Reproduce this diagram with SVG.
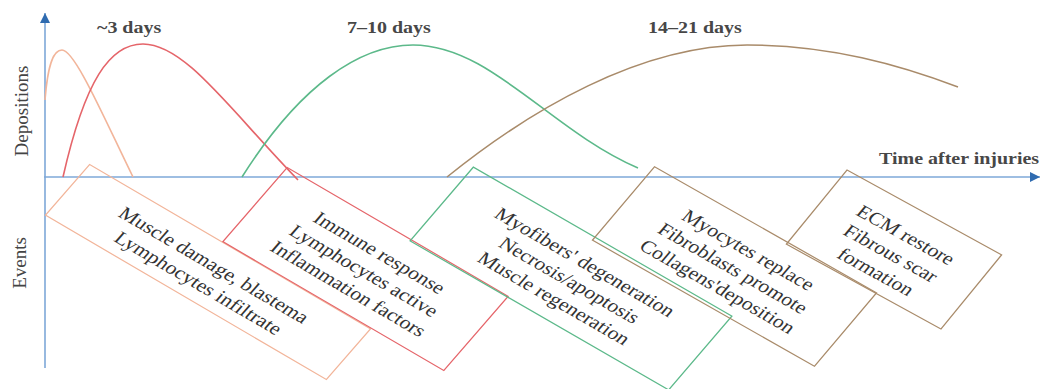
<svg xmlns="http://www.w3.org/2000/svg" width="1040" height="389" viewBox="0 0 1040 389">
<defs>
<marker id="arr" viewBox="0 0 10 10" refX="10" refY="5" markerWidth="10" markerHeight="10" markerUnits="userSpaceOnUse" orient="auto"><path d="M0,0 L10,5 L0,10 z" fill="#2f6bb0"/></marker>
</defs>
<style>
.axis{stroke:#7ea8d8;stroke-width:1.6;fill:none}
.lbl{font-family:"Liberation Serif",serif;fill:#474747;font-weight:bold;font-size:20px}
.ax{font-family:"Liberation Serif",serif;fill:#444;font-size:19px;text-anchor:middle}
.curve{fill:none;stroke-width:1.6}
.box{fill:none;stroke-width:1.4}
.bt{font-family:"Liberation Serif",serif;fill:#333;font-size:22px;text-anchor:middle}
.s{stroke:#f2b59a}.r{stroke:#e5656a}.g{stroke:#5cb98a}.b{stroke:#a98b6a}
</style>
<g id="axes">
<line class="axis" x1="45" y1="368" x2="45" y2="13" marker-end="url(#arr)"/>
<line class="axis" x1="44" y1="177" x2="1040" y2="177" marker-end="url(#arr)"/>
<text class="ax" transform="translate(28,111) rotate(-90)">Depositions</text>
<text class="ax" transform="translate(26,263) rotate(-90)">Events</text>
<text class="lbl" transform="translate(879,164) scale(1,0.82)">Time after injuries</text>
<text class="lbl" transform="translate(97,33) scale(1,0.82)">~3 days</text>
<text class="lbl" transform="translate(347,33) scale(1,0.82)">7–10 days</text>
<text class="lbl" transform="translate(648,33) scale(1,0.82)">14–21 days</text>
</g>
<g id="connectors">
<path class="curve s" d="M45,100 C48,62 54,50 62,50 C75,50 105,120 133,177"/>
<path class="curve r" d="M63,177 C85,80 110,44 143,44 C185,44 230,110 298,180"/>
<path class="curve g" d="M242,177 C300,85 360,45 413,45 C490,45 550,130 638,168"/>
<path class="curve b" d="M447,177 C530,110 640,45 747,45 C830,45 900,65 958,87"/>
</g>
<g id="node1" transform="translate(208,272) scale(1,0.82) rotate(35.5)">
<rect class="box s" x="-172.5" y="-38" width="345" height="76"/>
<text class="bt" y="-3">Muscle damage, blastema</text>
<text class="bt" y="24">Lymphocytes infiltrate</text>
</g>
<g id="node2" transform="translate(365.5,269) scale(1,0.82) rotate(35.4)">
<rect class="box r" x="-135.5" y="-55.5" width="271" height="111"/>
<text class="bt" y="-17">Immune response</text>
<text class="bt" y="10">Lymphocytes active</text>
<text class="bt" y="37">Inflammation factors</text>
</g>
<g id="node3" transform="translate(571,278.5) scale(1,0.82) rotate(35.1)">
<rect class="box g" x="-158" y="-55" width="316" height="110"/>
<text class="bt" y="-17">Myofibers' degeneration</text>
<text class="bt" y="10">Necrosis/apoptosis</text>
<text class="bt" y="37">Muscle regeneration</text>
</g>
<g id="node4" transform="translate(734.5,266.5) scale(1,0.82) rotate(34.7)">
<rect class="box b" x="-135" y="-54.5" width="270" height="109"/>
<text class="bt" y="-17">Myocytes replace</text>
<text class="bt" y="10">Fibroblasts promote</text>
<text class="bt" y="37">Collagens'deposition</text>
</g>
<g id="node5" transform="translate(894,249.5) scale(1,0.82) rotate(33.8)">
<rect class="box b" x="-93" y="-54.5" width="186" height="109"/>
<text class="bt" y="-14">ECM restore</text>
<text class="bt" y="13">Fibrous scar</text>
<text class="bt" y="40">formation</text>
</g>
</svg>
